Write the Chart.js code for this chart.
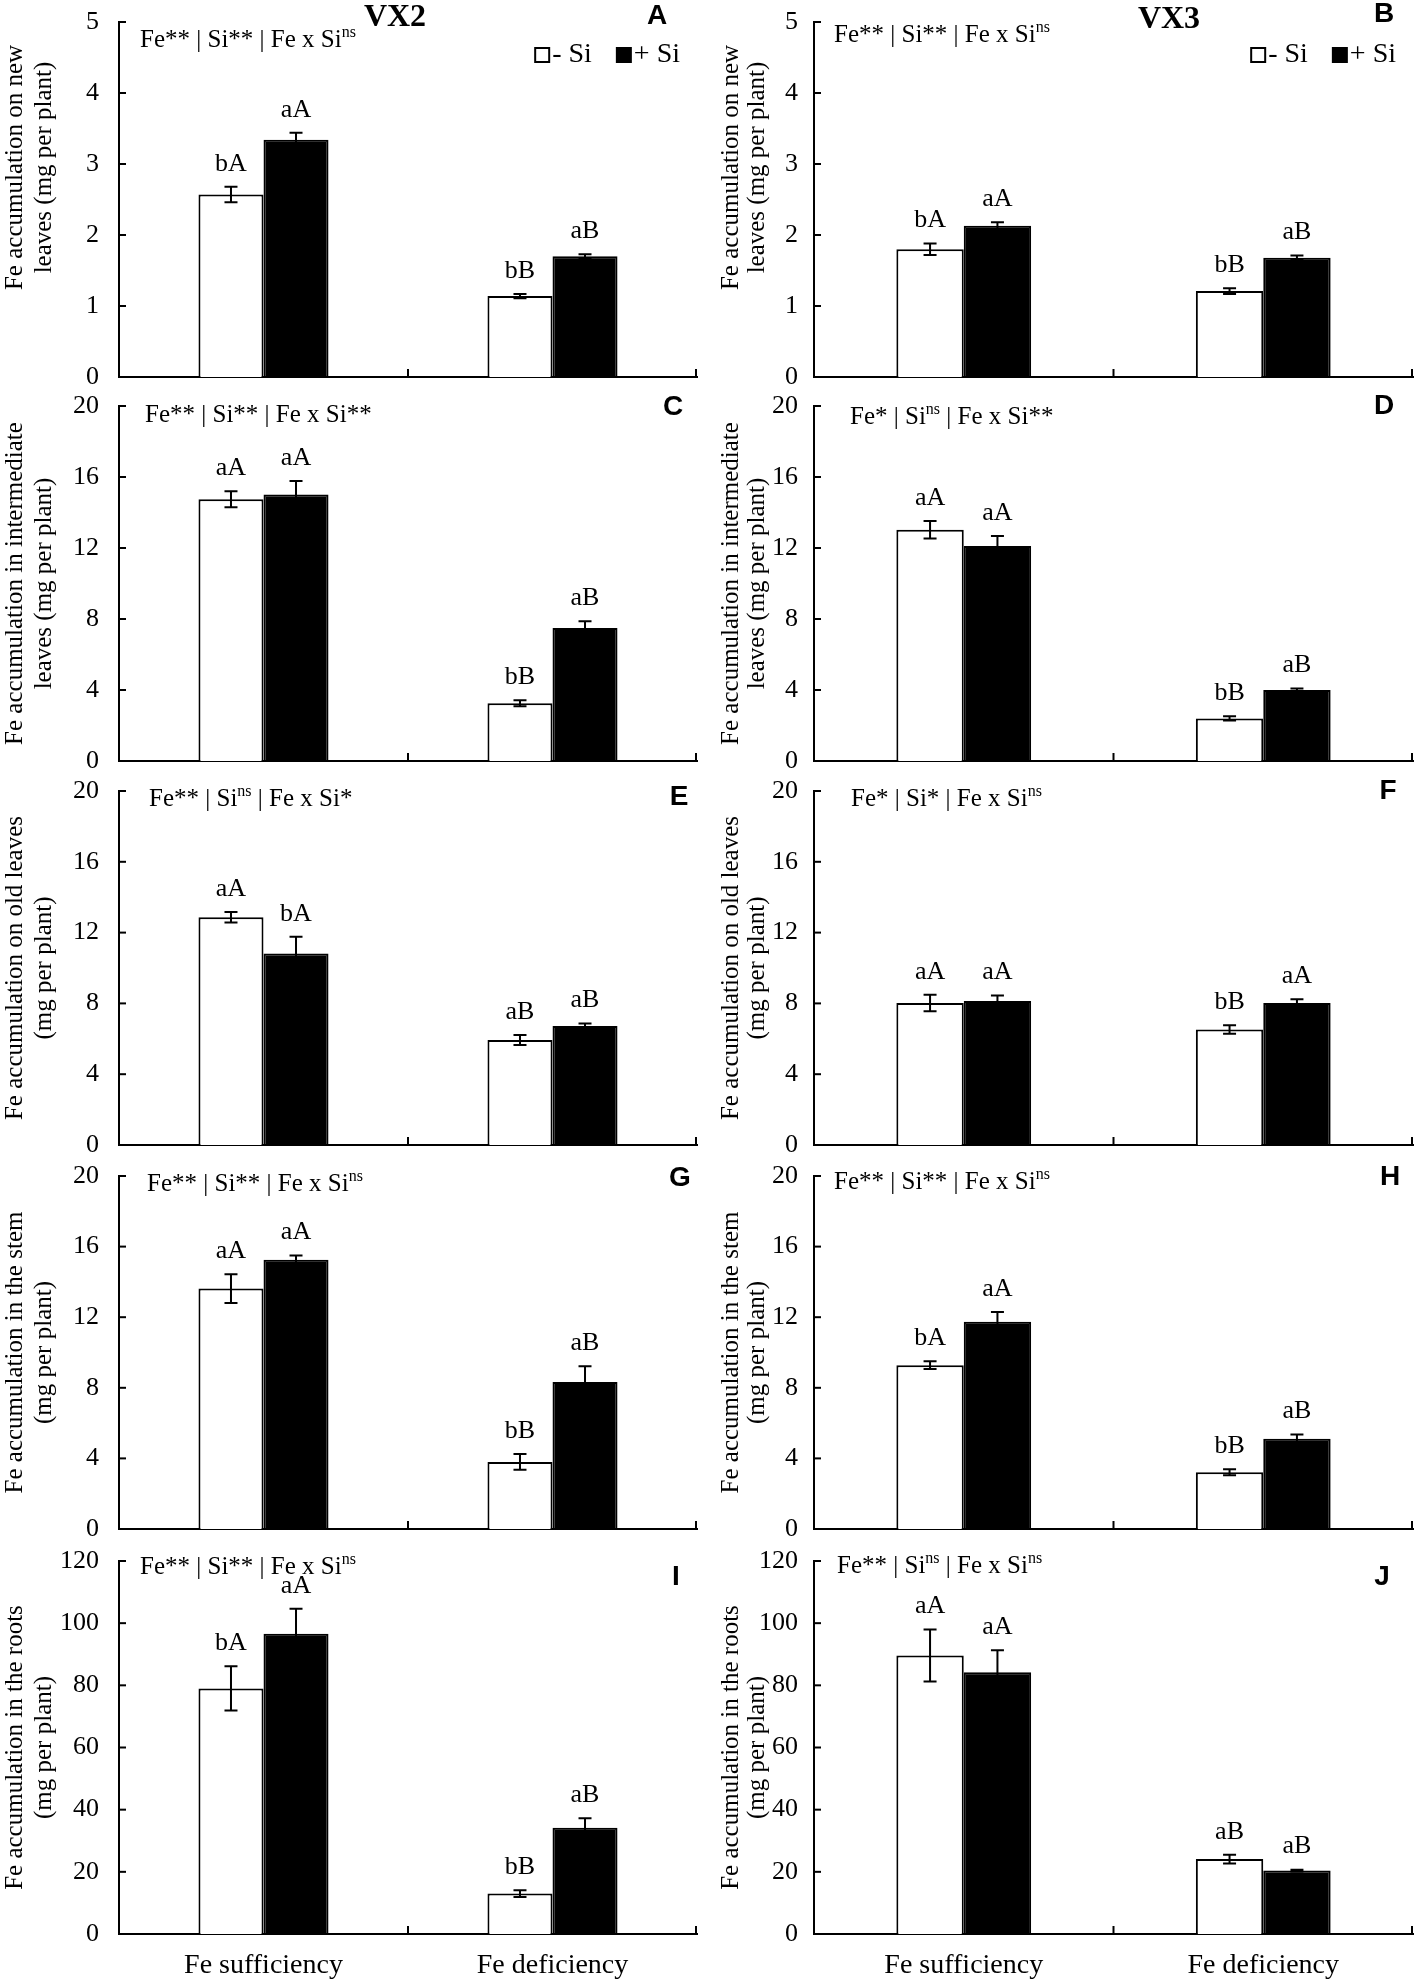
<!DOCTYPE html>
<html>
<head>
<meta charset="utf-8">
<script src="https://cdn.jsdelivr.net/npm/chart.js@4.4.1/dist/chart.umd.min.js"></script>
<style>
    html, body { margin: 0; padding: 0; background: #fff; }
    #wrap { position: relative; width: 1417px; height: 1982px; overflow: hidden; background: #fff; }
    #wrap canvas { position: absolute; }
</style>
</head>
<body>
<div id="wrap"></div>
<script>
// ==========================================
// DATA
// ==========================================

const categories = ['Fe sufficiency', 'Fe deficiency'];
const cultivars = ['VX2', 'VX3'];
const legendLabels = ['- Si', '+ Si'];
const panelIds = ['A', 'B', 'C', 'D', 'E', 'F', 'G', 'H', 'I', 'J'];

const yTitles = [
    ['Fe accumulation on new', 'leaves (mg per plant)'],
    ['Fe accumulation in intermediate', 'leaves (mg per plant)'],
    ['Fe accumulation on old leaves', '(mg per plant)'],
    ['Fe accumulation in the stem', '(mg per plant)'],
    ['Fe accumulation in the roots', '(mg per plant)']
];
const yMax = [5, 20, 20, 20, 120];
const yStep = [1, 4, 4, 4, 20];

// A - VX2 new leaves
const minusSiA = [2.57, 1.14], plusSiA = [3.34, 1.70];
const minusErrA = [0.11, 0.03], plusErrA = [0.10, 0.03];
const minusLetA = ['bA', 'bB'], plusLetA = ['aA', 'aB'];
const statsA = 'Fe** | Si** | Fe x Si^{ns}';

// B - VX3 new leaves
const minusSiB = [1.80, 1.21], plusSiB = [2.13, 1.68];
const minusErrB = [0.08, 0.04], plusErrB = [0.05, 0.03];
const minusLetB = ['bA', 'bB'], plusLetB = ['aA', 'aB'];
const statsB = 'Fe** | Si** | Fe x Si^{ns}';

// C - VX2 intermediate leaves
const minusSiC = [14.75, 3.25], plusSiC = [15.02, 7.49];
const minusErrC = [0.45, 0.17], plusErrC = [0.75, 0.38];
const minusLetC = ['aA', 'bB'], plusLetC = ['aA', 'aB'];
const statsC = 'Fe** | Si** | Fe x Si**';

// D - VX3 intermediate leaves
const minusSiD = [13.03, 2.40], plusSiD = [12.11, 4.00];
const minusErrD = [0.49, 0.12], plusErrD = [0.57, 0.09];
const minusLetD = ['aA', 'bB'], plusLetD = ['aA', 'aB'];
const statsD = 'Fe* | Si^{ns} | Fe x Si**';

// E - VX2 old leaves
const minusSiE = [12.87, 5.93], plusSiE = [10.82, 6.72];
const minusErrE = [0.30, 0.28], plusErrE = [0.94, 0.15];
const minusLetE = ['aA', 'aB'], plusLetE = ['bA', 'aB'];
const statsE = 'Fe** | Si^{ns} | Fe x Si*';

// F - VX3 old leaves
const minusSiF = [8.02, 6.52], plusSiF = [8.13, 8.02];
const minusErrF = [0.47, 0.24], plusErrF = [0.32, 0.21];
const minusLetF = ['aA', 'bB'], plusLetF = ['aA', 'aA'];
const statsF = 'Fe* | Si* | Fe x Si^{ns}';

// G - VX2 stem
const minusSiG = [13.62, 3.80], plusSiG = [15.26, 8.33];
const minusErrG = [0.81, 0.45], plusErrG = [0.24, 0.89];
const minusLetG = ['aA', 'bB'], plusLetG = ['aA', 'aB'];
const statsG = 'Fe** | Si** | Fe x Si^{ns}';

// H - VX3 stem
const minusSiH = [9.28, 3.21], plusSiH = [11.74, 5.11];
const minusErrH = [0.22, 0.17], plusErrH = [0.56, 0.24];
const minusLetH = ['bA', 'bB'], plusLetH = ['aA', 'aB'];
const statsH = 'Fe** | Si** | Fe x Si^{ns}';

// I - VX2 roots
const minusSiI = [79.0, 13.0], plusSiI = [96.6, 34.2];
const minusErrI = [7.1, 1.1], plusErrI = [8.0, 3.0];
const minusLetI = ['bA', 'bB'], plusLetI = ['aA', 'aB'];
const statsI = 'Fe** | Si** | Fe x Si^{ns}';

// J - VX3 roots
const minusSiJ = [89.6, 24.1], plusSiJ = [84.2, 20.4];
const minusErrJ = [8.4, 1.4], plusErrJ = [7.1, 0.3];
const minusLetJ = ['aA', 'aB'], plusLetJ = ['aA', 'aB'];
const statsJ = 'Fe** | Si^{ns} | Fe x Si^{ns}';

const panelData = [
    [minusSiA, plusSiA, minusErrA, plusErrA, minusLetA, plusLetA, statsA],
    [minusSiB, plusSiB, minusErrB, plusErrB, minusLetB, plusLetB, statsB],
    [minusSiC, plusSiC, minusErrC, plusErrC, minusLetC, plusLetC, statsC],
    [minusSiD, plusSiD, minusErrD, plusErrD, minusLetD, plusLetD, statsD],
    [minusSiE, plusSiE, minusErrE, plusErrE, minusLetE, plusLetE, statsE],
    [minusSiF, plusSiF, minusErrF, plusErrF, minusLetF, plusLetF, statsF],
    [minusSiG, plusSiG, minusErrG, plusErrG, minusLetG, plusLetG, statsG],
    [minusSiH, plusSiH, minusErrH, plusErrH, minusLetH, plusLetH, statsH],
    [minusSiI, plusSiI, minusErrI, plusErrI, minusLetI, plusLetI, statsI],
    [minusSiJ, plusSiJ, minusErrJ, plusErrJ, minusLetJ, plusLetJ, statsJ]
];

// ==========================================
// LAYOUT
// ==========================================

const SERIF = "'Liberation Serif', 'Times New Roman', serif";
const SANS = "'Liberation Sans', Arial, sans-serif";

const rowAxisTop = [22, 406, 791, 1176, 1561];
const rowAxisBottom = [377, 761, 1145, 1529, 1934];
const colX = [0, 707];
const colWidth = [707, 710];
const colAxisLeft = [119, 107];     // relative to the canvas
const colAxisRight = [697, 706];
const colTitleX = [[15, 44], [24, 50]];
const rowTitleShift = [-32, 0, 0, 0, 0];

const statsDx = [21, 20, 26, 36, 30, 37, 28, 20, 21, 23];
const statsDy = [18, 13, 9, 11, 8, 8, 8, 6, 6, 5];
const letterDx = [40, 29, 24, 29, 18, 25, 17, 23, 21, 31];
const letterDy = [-6, -8, 1, 0, 6, 0, 2, 1, 16, 16];
const cultivarPos = [[395, 18], [462, 20]];

Chart.defaults.font.family = SERIF;
Chart.defaults.color = '#000';

// ==========================================
// DRAWING HELPERS
// ==========================================

function drawRichText(ctx, str, x, y, size) {
    const parts = str.split(/(\^\{[^}]*\})/).filter(p => p.length);
    let cx = x;
    ctx.textAlign = 'left';
    ctx.textBaseline = 'middle';
    parts.forEach(p => {
        if (p.startsWith('^{')) {
            const t = p.slice(2, -1);
            ctx.font = `${Math.round(size * 0.62)}px ${SERIF}`;
            ctx.fillText(t, cx, y - size * 0.3);
            cx += ctx.measureText(t).width;
        } else {
            ctx.font = `${size}px ${SERIF}`;
            ctx.fillText(p, cx, y);
            cx += ctx.measureText(p).width;
        }
    });
}

const decorPlugin = {
    id: 'decor',
    afterDraw(chart) {
        const cfg = chart.options.plugins.decor;
        const ctx = chart.ctx;
        const area = chart.chartArea;
        const xs = chart.scales.x;
        const ys = chart.scales.y;
        const idx = cfg.index;
        const row = Math.floor(idx / 2);
        const col = idx % 2;
        const [mVals, pVals, mErr, pErr, mLet, pLet, stats] = panelData[idx];

        ctx.save();
        ctx.strokeStyle = '#000';
        ctx.fillStyle = '#000';
        ctx.lineWidth = 2;

        // y ticks pointing inward
        ys.ticks.forEach(t => {
            const y = ys.getPixelForValue(t.value);
            ctx.beginPath();
            ctx.moveTo(area.left, y);
            ctx.lineTo(area.left + 7, y);
            ctx.stroke();
        });

        // x ticks between categories and at the end
        const mid = (xs.getPixelForValue(0) + xs.getPixelForValue(1)) / 2;
        [mid, area.right - 1].forEach(x => {
            ctx.beginPath();
            ctx.moveTo(x, area.bottom);
            ctx.lineTo(x, area.bottom - 8);
            ctx.stroke();
        });

        // error bars and significance letters
        const series = [[mVals, mErr, mLet], [pVals, pErr, pLet]];
        series.forEach(([vals, errs, lets], d) => {
            const meta = chart.getDatasetMeta(d);
            meta.data.forEach((bar, i) => {
                const yTop = ys.getPixelForValue(vals[i] + errs[i]);
                const yBot = ys.getPixelForValue(vals[i] - errs[i]);
                ctx.lineWidth = 2;
                ctx.beginPath();
                ctx.moveTo(bar.x, yTop);
                ctx.lineTo(bar.x, yBot);
                ctx.moveTo(bar.x - 6.5, yTop);
                ctx.lineTo(bar.x + 6.5, yTop);
                ctx.moveTo(bar.x - 6.5, yBot);
                ctx.lineTo(bar.x + 6.5, yBot);
                ctx.stroke();

                ctx.font = `26px ${SERIF}`;
                ctx.textAlign = 'center';
                ctx.textBaseline = 'bottom';
                ctx.fillText(lets[i], bar.x, yTop - 10);
            });
        });

        // ANOVA summary
        drawRichText(ctx, stats, area.left + statsDx[idx], area.top + statsDy[idx], 25);

        // panel letter
        ctx.font = `bold 28px ${SANS}`;
        ctx.textAlign = 'center';
        ctx.textBaseline = 'middle';
        ctx.fillText(panelIds[idx], area.right - letterDx[idx], area.top + letterDy[idx]);

        // y axis title
        ctx.font = `25px ${SERIF}`;
        const cy = (area.top + area.bottom) / 2 + rowTitleShift[row];
        yTitles[row].forEach((line, k) => {
            ctx.save();
            ctx.translate(colTitleX[col][k], cy);
            ctx.rotate(-Math.PI / 2);
            ctx.textAlign = 'center';
            ctx.textBaseline = 'middle';
            ctx.fillText(line, 0, 0);
            ctx.restore();
        });

        if (row === 0) {
            // cultivar title
            ctx.font = `bold 32px ${SERIF}`;
            ctx.textAlign = 'center';
            ctx.textBaseline = 'middle';
            ctx.fillText(cultivars[col], cultivarPos[col][0], cultivarPos[col][1]);

            // legend
            ctx.font = `28px ${SERIF}`;
            ctx.textAlign = 'left';
            ctx.textBaseline = 'middle';
            const ly = area.top + 33;
            let x = area.right - 17;
            x -= ctx.measureText(legendLabels[1]).width;
            ctx.fillText(legendLabels[1], x, ly);
            x -= 18;
            ctx.fillRect(x, ly - 8, 16, 16);
            x -= 24;
            x -= ctx.measureText(legendLabels[0]).width;
            ctx.fillText(legendLabels[0], x, ly);
            x -= 18;
            ctx.lineWidth = 2;
            ctx.strokeRect(x + 1, ly - 7, 14, 14);
        }
        ctx.restore();
    }
};

// ==========================================
// CHART INITIALIZERS
// ==========================================

function initPanel(idx) {
    const row = Math.floor(idx / 2);
    const col = idx % 2;
    const [mVals, pVals] = panelData[idx];
    const top = rowAxisTop[row] - 22;
    const bottomExtra = row === 4 ? 48 : 30;
    const width = colWidth[col];
    const height = rowAxisBottom[row] - top + bottomExtra;

    const canvas = document.createElement('canvas');
    canvas.width = width;
    canvas.height = height;
    canvas.style.left = colX[col] + 'px';
    canvas.style.top = top + 'px';
    canvas.style.width = width + 'px';
    canvas.style.height = height + 'px';
    document.getElementById('wrap').appendChild(canvas);

    return new Chart(canvas.getContext('2d'), {
        type: 'bar',
        data: {
            labels: categories,
            datasets: [{
                label: legendLabels[0],
                data: mVals,
                backgroundColor: '#fff',
                borderColor: '#000',
                borderWidth: 2
            }, {
                label: legendLabels[1],
                data: pVals,
                backgroundColor: '#000',
                borderColor: '#000',
                borderWidth: 2
            }]
        },
        options: {
            responsive: false,
            animation: false,
            categoryPercentage: 0.45,
            barPercentage: 1.0,
            layout: {
                padding: { top: 22, left: 0, right: width - colAxisRight[col], bottom: 0 }
            },
            plugins: {
                legend: { display: false },
                tooltip: { enabled: false },
                decor: { index: idx }
            },
            scales: {
                x: {
                    offset: true,
                    grid: { display: false, drawTicks: false },
                    border: { display: true, color: '#000', width: 2 },
                    ticks: {
                        display: row === 4,
                        color: '#000',
                        font: { size: 28, family: SERIF },
                        padding: 15,
                        maxRotation: 0
                    },
                    afterFit: (s) => {
                        s.height = bottomExtra;
                        s.paddingLeft = 0;
                        s.paddingRight = 0;
                    }
                },
                y: {
                    min: 0,
                    max: yMax[row],
                    grid: { display: false, drawTicks: false },
                    border: { display: true, color: '#000', width: 2 },
                    ticks: {
                        stepSize: yStep[row],
                        color: '#000',
                        font: { size: 26, family: SERIF },
                        padding: col === 0 ? 20 : 16
                    },
                    // keep the plot box exactly where the axes sit in the figure
                    afterFit: (s) => {
                        s.width = colAxisLeft[col];
                        s.paddingTop = 0;
                        s.paddingBottom = 0;
                    }
                }
            }
        },
        plugins: [decorPlugin]
    });
}

panelIds.forEach((id, i) => initPanel(i));
</script>
</body>
</html>
